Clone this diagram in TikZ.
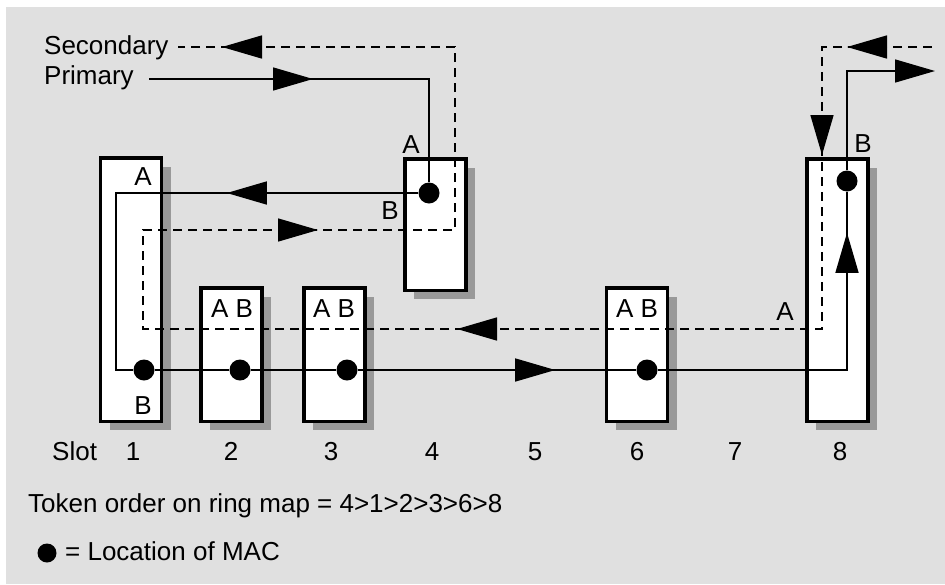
\documentclass[tikz,border=0pt]{standalone}
\usepackage{fontspec}
\setmainfont{Liberation Sans}
\usetikzlibrary{arrows.meta,shadows,decorations.markings}
\definecolor{cBg}{HTML}{E0E0E0}
\definecolor{cShade}{HTML}{999999}
\definecolor{cInk}{HTML}{000000}

\begin{document}
\begin{tikzpicture}[x=1pt, y=-1pt,
  font=\fontsize{26}{30}\selectfont,
  >={Triangle[length=40pt,width=23pt]},
  card/.style={rectangle, draw=cInk, line width=3.5pt, fill=white, minimum width=61pt,
     minimum height=#1, inner sep=0pt,
     drop shadow={shadow xshift=9pt, shadow yshift=-9pt, fill=cShade, opacity=1}},
  mac/.style={circle, fill=cInk, inner sep=0pt, minimum size=21pt},
  prim/.style={line width=1.5pt, draw=cInk},
  sec/.style={prim, dash pattern=on 9pt off 6pt},
  tipat/.style={postaction={decorate, decoration={markings,
     mark=at position #1 with {\arrow{>}}}}},
  port/.style={anchor=base, inner sep=0pt, text=cInk},
]

\useasboundingbox (0,0) rectangle (945,584);
\fill[cBg] (6,7) rectangle (945,584);

% =================== STATIONS ===================
\node[card=263.5pt] (b1) at (131,289.5) {};
\node[card=133.5pt] (b2) at (231.5,354.5) {};
\node[card=133.5pt] (b3) at (334.5,354.5) {};
\node[card=131.5pt] (b4) at (435.5,224.5) {};
\node[card=133.5pt] (b6) at (637,354.5) {};
\node[card=262.5pt] (b8) at (837.5,290) {};

% MAC locations
\node[mac] (m1) at (144,370) {};
\node[mac] (m2) at (240,370) {};
\node[mac] (m3) at (347,370) {};
\node[mac] (m4) at (429,193) {};
\node[mac] (m6) at (647,370) {};
\node[mac] (m8) at (847,181) {};

% =================== PRIMARY RING ===================
\coordinate (pin)  at (149,79);
\coordinate (c1t)  at (116,193);
\coordinate (c1b)  at (116,370);
\coordinate (pout) at (935,71);

\draw[prim, tipat=164pt] (pin) -| (m4);
\draw[prim, tipat=191.5pt] (m4) -- (c1t) -- (c1b) -- (m1);
\draw[prim] (m1) -- (m2) -- (m3);
\draw[prim, tipat=197.5pt] (m3) -- (m6);
\draw[prim, tipat=326.5pt] (m6) -| (m8);
\draw[prim, ->] (m8) |- (pout);

% =================== SECONDARY RING ===================
\coordinate (sin)  at (932,47);
\coordinate (q8t)  at (822,47);
\coordinate (q8b)  at (822,329);
\coordinate (q1b)  at (143,329);
\coordinate (q1t)  at (143,230);
\coordinate (q4b)  at (455,230);
\coordinate (q4t)  at (455,47);
\coordinate (sout) at (178,47);

\draw[sec, tipat=85pt, tipat=218pt, tipat=757pt, tipat=1345pt, tipat=1898pt]
  (sin) -- (q8t) -- (q8b) -- (q1b) -- (q1t) -- (q4b) -- (q4t) -- (sout);

% port letters
\node[port] (b1A) at (143,185) {A};
\node[port] (b1B) at (143,414) {B};
\node[port] (b2AB) at (232,317) {A B};
\node[port] (b3AB) at (334,317) {A B};
\node[port] (b4A) at (411,153) {A};
\node[port] (b4B) at (390,219) {B};
\node[port] (b6AB) at (637,317) {A B};
\node[port] (b8A) at (785,320) {A};
\node[port] (b8B) at (863,152) {B};

% ring names
\node[port, anchor=base west] (lsec) at (44,54) {Secondary};
\node[port, anchor=base west] (lpri) at (44,84) {Primary};

% slot numbers
\node[port, anchor=base west] (slot) at (52,460) {Slot};
\foreach \n/\x in {1/133,2/231,3/331,4/432,5/535,6/637,7/735,8/840}
  \node[port] (num\n) at (\x,460) {\n};

% notes
\node[port, anchor=base west] (order) at (28,512) {Token order on ring map = 4>1>2>3>6>8};
\node[mac, minimum size=19pt] (key) at (47,553) {};
\node[port, anchor=base west] (keytxt) at (65,560) {= Location of MAC};

\end{tikzpicture}
\end{document}
